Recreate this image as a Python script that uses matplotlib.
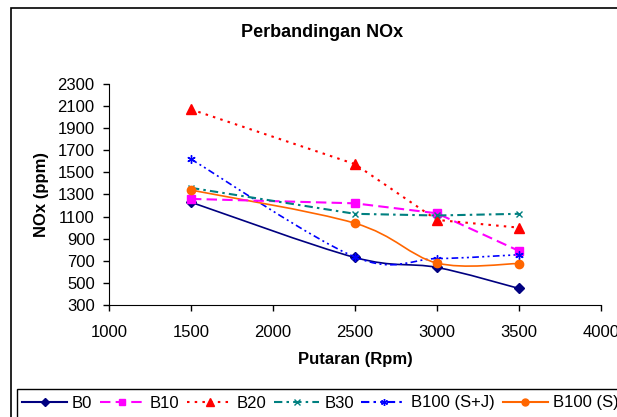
import matplotlib
matplotlib.use("Agg")
import matplotlib.pyplot as plt
from matplotlib.path import Path
from matplotlib.patches import PathPatch, Rectangle
from matplotlib.lines import Line2D

plt.rcParams['font.family'] = ['Liberation Sans', 'DejaVu Sans']

rpm = [1500, 2500, 3000, 3500]
b0 = [1230, 730, 640, 450]
b10 = [1260, 1220, 1130, 790]
b20 = [2070, 1575, 1070, 1000]
b30 = [1360, 1125, 1110, 1125]
b100_sj = [1620, 735, 720, 755]
b100_s = [1340, 1040, 680, 675]

labels = ["B0", "B10", "B20", "B30", "B100 (S+J)", "B100 (S)"]
xticks = [1000, 1500, 2000, 2500, 3000, 3500, 4000]
yticks = list(range(300, 2301, 200))


def smooth_path(x, y):
    # catmull-rom style bezier, like excel "smoothed line"
    verts = [(x[0], y[0])]
    codes = [Path.MOVETO]
    n = len(x)
    for i in range(n - 1):
        x0, y0 = (x[i - 1], y[i - 1]) if i > 0 else (x[i], y[i])
        x3, y3 = (x[i + 2], y[i + 2]) if i + 2 < n else (x[i + 1], y[i + 1])
        c1 = (x[i] + (x[i + 1] - x0) / 6, y[i] + (y[i + 1] - y0) / 6)
        c2 = (x[i + 1] - (x3 - x[i]) / 6, y[i + 1] - (y3 - y[i]) / 6)
        verts += [c1, c2, (x[i + 1], y[i + 1])]
        codes += [Path.CURVE4] * 3
    return Path(verts, codes)


series = [
    (b0, "#000080", "-", "D", 5, True),
    (b10, "#FF00FF", (0, (5, 2.5)), "s", 6, False),
    (b20, "#FF0000", (0, (1.2, 2.5)), "^", 7, False),
    (b30, "#008080", (0, (4, 2, 1.2, 2)), "x", 5, False),
    (b100_sj, "#0000FF", (0, (4, 2, 1.2, 2, 1.2, 2)), (6, 2, 0), 6, True),
    (b100_s, "#FF6600", "-", "o", 6, True),
]

fig = plt.figure(figsize=(6.17, 4.17), dpi=100)
ax = fig.add_axes([0.1767, 0.2686, 0.797, 0.53])

handles = []
for (vals, col, ls, mk, ms, smooth), lab in zip(series, labels):
    if smooth:
        ax.add_patch(PathPatch(smooth_path(rpm, vals), fill=False, edgecolor=col,
                               linestyle=ls, linewidth=1.2))
    else:
        ax.plot(rpm, vals, color=col, linestyle=ls, linewidth=1.5)
    ax.plot(rpm, vals, linestyle="none", marker=mk, markersize=ms, color=col,
            markeredgecolor=col, markeredgewidth=1)
    handles.append(Line2D([], [], color=col, linestyle=ls, linewidth=1.5,
                          marker=mk, markersize=ms - 1, markeredgecolor=col))

ax.set_xlim(1000, 4000)
ax.set_ylim(300, 2300)
ax.set_xticks(xticks)
ax.set_yticks(yticks)
ax.spines["top"].set_visible(False)
ax.spines["right"].set_visible(False)
ax.tick_params(direction="out", length=4.3, labelsize=12, width=1)
ax.tick_params(axis="x", pad=10)
ax.tick_params(axis="y", pad=6)
ax.set_xlabel("Putaran (Rpm)", fontsize=12, fontweight="bold", labelpad=9)
ax.set_ylabel("NOx (ppm)", fontsize=12, fontweight="bold", labelpad=6)

fig.text(0.522, 0.921, "Perbandingan NOx", ha="center", va="center",
         fontsize=13, fontweight="bold")

# outer chart border and legend box (run off the picture edge)
fig.patches.append(Rectangle((11 / 617, -0.2), 1.2, 1.2 - 8 / 417,
                             transform=fig.transFigure, fill=False,
                             edgecolor="black", linewidth=1.2))
fig.patches.append(Rectangle((17 / 617, -0.2), 1.2, 0.2 + 1 - 389 / 417,
                             transform=fig.transFigure, fill=False,
                             edgecolor="black", linewidth=1))

fig.legend(handles, labels, loc="center left", bbox_to_anchor=(22 / 617, 1 - 403 / 417),
           ncol=6, frameon=False, fontsize=12, handlelength=2.7, borderpad=0,
           handletextpad=0.3, columnspacing=0.45, borderaxespad=0)

fig.savefig("out.png", dpi=100)
